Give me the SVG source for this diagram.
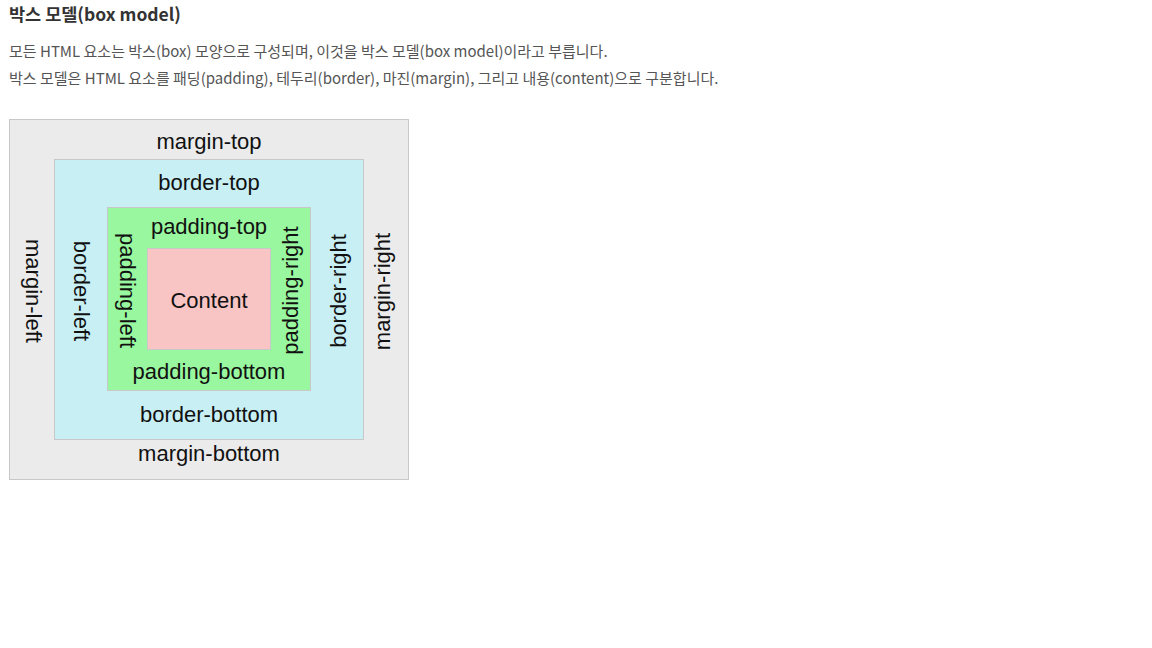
<svg xmlns="http://www.w3.org/2000/svg" width="1152" height="648" viewBox="0 0 1152 648">
<style>
.h{font-family:"Noto Sans CJK KR","Noto Sans",sans-serif;font-size:17.5px;font-weight:bold;fill:#333}
.p{font-family:"Noto Sans CJK KR","Noto Sans",sans-serif;font-size:15px;fill:#555}
.l{font-family:"Liberation Sans",Arial,sans-serif;font-size:22px;fill:#111;text-anchor:middle}
.box{stroke:#c8c8c8;stroke-width:1}
</style>
<rect width="1152" height="648" fill="#fff"/>
<text class="h" x="9" y="21">박스 모델(box model)</text>
<text class="p" x="9" y="57">모든 HTML 요소는 박스(box) 모양으로 구성되며, 이것을 박스 모델(box model)이라고 부릅니다.</text>
<text class="p" x="9" y="84">박스 모델은 HTML 요소를 패딩(padding), 테두리(border), 마진(margin), 그리고 내용(content)으로 구분합니다.</text>
<g id="margin">
<rect class="box" x="9.5" y="119.5" width="399" height="360" fill="#ebebeb"/>
<text class="l" x="209" y="149">margin-top</text>
<text class="l" x="209" y="461">margin-bottom</text>
<text class="l" transform="translate(25.5,291) rotate(90)">margin-left</text>
<text class="l" transform="translate(390,291.5) rotate(-90)">margin-right</text>
</g>
<g id="border">
<rect class="box" x="54.5" y="159.5" width="309" height="280" fill="#c8eff4"/>
<text class="l" x="209" y="190">border-top</text>
<text class="l" x="209" y="422">border-bottom</text>
<text class="l" transform="translate(73.5,291) rotate(90)">border-left</text>
<text class="l" transform="translate(346,291) rotate(-90)">border-right</text>
</g>
<g id="padding">
<rect class="box" x="107.5" y="207.5" width="203" height="183" fill="#99f89f"/>
<text class="l" x="209" y="234">padding-top</text>
<text class="l" x="209" y="379">padding-bottom</text>
<text class="l" transform="translate(119.5,290.5) rotate(90)">padding-left</text>
<text class="l" transform="translate(298,290.5) rotate(-90)">padding-right</text>
</g>
<g id="content">
<rect class="box" x="147.5" y="248.5" width="123" height="101" fill="#f8c4c4"/>
<text class="l" x="209" y="308">Content</text>
</g>
<g id="connectors"/>
</svg>
